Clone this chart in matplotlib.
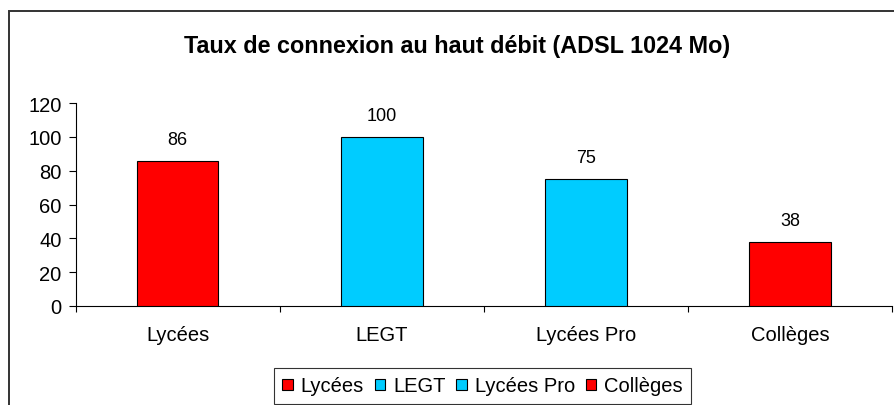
import matplotlib
matplotlib.use("Agg")
import matplotlib.pyplot as plt
from matplotlib.patches import Rectangle, Patch
from matplotlib.legend_handler import HandlerPatch

categories = ["Lycées", "LEGT", "Lycées Pro", "Collèges"]
values = [86, 100, 75, 38]
colors = ["#FF0000", "#00CCFF", "#00CCFF", "#FF0000"]
yticks = [0, 20, 40, 60, 80, 100, 120]

plt.rcParams['font.family'] = ['Liberation Sans', 'DejaVu Sans']

W, H = 894, 406
fig = plt.figure(figsize=(W/100, H/100), dpi=100)
fig.patch.set_facecolor("white")

# outer chart frame (extends past right/bottom edges)
fig.add_artist(Rectangle((8.5/W, -0.05), 1.2, 1 - 12/H + 0.05, transform=fig.transFigure,
                         fill=False, edgecolor="#333333", linewidth=1.4))

ax = fig.add_axes([75.5/W, 1 - 307/H, (892 - 75.5)/W, (307 - 104)/H])
x = list(range(len(categories)))
ax.bar(x, values, width=0.4, color=colors, edgecolor="black", linewidth=0.8, zorder=3)
for xi, v in zip(x, values):
    ax.text(xi, v + 12.5, str(v), ha="center", va="center", fontsize=13)

ax.set_xlim(-0.5, 3.5)
ax.set_ylim(0, 120)
ax.set_yticks(yticks)
ax.set_yticklabels([str(t) for t in yticks], fontsize=14.5)
ax.set_xticks(x)
ax.set_xticklabels(categories, fontsize=14.5)
ax.tick_params(axis="x", length=0, pad=14)
ax.set_xticks([-0.5, 0.5, 1.5, 2.5, 3.5], minor=True)
ax.tick_params(axis="x", which="minor", length=4.5, width=0.8, direction="out")
ax.tick_params(axis="y", length=5, width=0.8, direction="out", pad=5)
for s in ["top", "right"]:
    ax.spines[s].set_visible(False)
ax.spines["left"].set_linewidth(0.8)
ax.spines["bottom"].set_linewidth(0.8)

fig.text(457/W, 1 - 46/H, "Taux de connexion au haut débit (ADSL 1024 Mo)",
         ha="center", va="center", fontsize=16.8, fontweight="bold")


def square_patch(legend, orig_handle, xdescent, ydescent, width, height, fontsize):
    return Rectangle((-xdescent, -ydescent + (height - width) / 2), width, width)


handles = [Patch(facecolor=c, edgecolor="black", linewidth=0.8) for c in colors]
leg = fig.legend(handles, categories, loc="center", bbox_to_anchor=(482.5/W, 1 - 387/H),
                 ncol=4, fontsize=14.5, frameon=True, fancybox=False, handlelength=0.52,
                 handletextpad=0.38, columnspacing=0.55, borderpad=0.4,
                 borderaxespad=0,
                 handler_map={Patch: HandlerPatch(patch_func=square_patch)})
leg.get_frame().set_edgecolor("black")
leg.get_frame().set_linewidth(0.8)

fig.savefig("out.png", dpi=100)
